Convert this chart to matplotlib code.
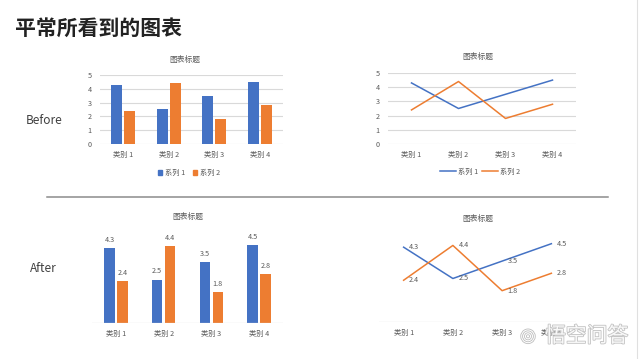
import numpy as np
import matplotlib
matplotlib.use("Agg")
import matplotlib.pyplot as plt
import matplotlib.patheffects as pe
from matplotlib.lines import Line2D
from matplotlib.patches import Patch

plt.rcParams['font.family'] = ['Noto Sans CJK SC', 'DejaVu Sans']

categories = ['类别 1', '类别 2', '类别 3', '类别 4']
series1 = [4.3, 2.5, 3.5, 4.5]
series2 = [2.4, 4.4, 1.8, 2.8]
series_names = ['系列 1', '系列 2']
yticks = [0, 1, 2, 3, 4, 5]

BLUE = '#4472C4'
ORANGE = '#ED7D31'
GRID = '#D9D9D9'
TXT = '#595959'
SMALL = 5.2

W, H = 640, 359
fig = plt.figure(figsize=(W / 100, H / 100), dpi=100)


def rect(x0, x1, ybot, ytop):
    # pixel box -> figure fraction
    return [x0 / W, 1 - ybot / H, (x1 - x0) / W, (ybot - ytop) / H]


def fx(x):
    return x / W


def fy(y):
    return 1 - y / H


def style_axes(ax, grid=True):
    for s in ax.spines.values():
        s.set_visible(False)
    ax.set_xlim(-0.5, len(categories) - 0.5)
    ax.set_ylim(0, 5)
    ax.set_xticks(np.arange(len(categories)))
    ax.set_xticklabels(categories)
    ax.tick_params(axis='x', length=0, pad=5, labelsize=SMALL, colors=TXT)
    if grid:
        ax.set_yticks(yticks)
        ax.tick_params(axis='y', length=0, pad=6, labelsize=SMALL, colors=TXT)
        ax.grid(axis='y', color=GRID, linewidth=0.8)
        ax.set_axisbelow(True)
    else:
        ax.set_yticks([])
        ax.axhline(0, color=GRID, linewidth=0.9)


x = np.arange(len(categories))

# page title
fig.text(fx(15), fy(28), '平常所看到的图表', fontsize=15, fontweight='bold',
         color='#222222', va='center', ha='left')
fig.text(fx(26), fy(121), 'Before', fontsize=8.5, color='#404040', va='center')
fig.text(fx(30), fy(269), 'After', fontsize=8.5, color='#404040', va='center')

# separator and slide edge
fig.add_artist(Line2D([fx(47), fx(608)], [fy(197), fy(197)], color='#8C8C8C', linewidth=1.1))
fig.add_artist(Line2D([fx(637), fx(637)], [0, 1], color='#E0E0E0', linewidth=0.8))

# --- before: bar chart
ax1 = fig.add_axes(rect(100, 283, 144, 75))
style_axes(ax1)
bw, off = 0.24, 0.14
ax1.bar(x - off, series1, bw, color=BLUE)
ax1.bar(x + off, series2, bw, color=ORANGE)
fig.text(fx(185), fy(60), '图表标题', fontsize=5.6, color=TXT, ha='center', va='center')
ax1.legend([Patch(color=BLUE), Patch(color=ORANGE)], series_names, loc='center',
           bbox_to_anchor=(fx(189), fy(173)), bbox_transform=fig.transFigure,
           ncol=2, frameon=False, fontsize=SMALL, handlelength=0.6, handleheight=0.6,
           handletextpad=0.4, columnspacing=1.0, labelcolor=TXT)

# --- before: line chart
ax2 = fig.add_axes(rect(388, 576, 144, 73))
style_axes(ax2)
ax2.plot(x, series1, color=BLUE, linewidth=1.1)
ax2.plot(x, series2, color=ORANGE, linewidth=1.1)
fig.text(fx(478), fy(57), '图表标题', fontsize=5.6, color=TXT, ha='center', va='center')
ax2.legend([Line2D([], [], color=BLUE, lw=1.1), Line2D([], [], color=ORANGE, lw=1.1)],
           series_names, loc='center', bbox_to_anchor=(fx(480), fy(172)),
           bbox_transform=fig.transFigure, ncol=2, frameon=False, fontsize=SMALL,
           handlelength=2.2, handletextpad=0.2, columnspacing=0.6, labelcolor=TXT)

# --- after: bar chart
ax3 = fig.add_axes(rect(92, 283, 323, 236))
style_axes(ax3, grid=False)
bw, off = 0.22, 0.135
b1 = ax3.bar(x - off, series1, bw, color=BLUE)
b2 = ax3.bar(x + off, series2, bw, color=ORANGE)
ax3.bar_label(b1, labels=[str(v) for v in series1], padding=3, fontsize=SMALL, color=TXT)
ax3.bar_label(b2, labels=[str(v) for v in series2], padding=3, fontsize=SMALL, color=TXT)
fig.text(fx(188), fy(217), '图表标题', fontsize=5.6, color=TXT, ha='center', va='center')

# --- after: line chart
ax4 = fig.add_axes(rect(379, 576, 322, 235))
style_axes(ax4, grid=False)
ax4.plot(x, series1, color=BLUE, linewidth=1.1)
ax4.plot(x, series2, color=ORANGE, linewidth=1.1)
for xi, v in zip(x, series1):
    ax4.annotate(str(v), (xi, v), xytext=(4, 0), textcoords='offset points',
                 fontsize=SMALL, color=TXT, ha='left', va='center')
for xi, v in zip(x, series2):
    ax4.annotate(str(v), (xi, v), xytext=(4, 0), textcoords='offset points',
                 fontsize=SMALL, color=TXT, ha='left', va='center')
fig.text(fx(478), fy(219), '图表标题', fontsize=5.6, color=TXT, ha='center', va='center')

# watermark (sits over the last category label, as in the source image)
fig.text(fx(545), fy(336), '悟空问答', fontsize=15, color='white', ha='left', va='center',
         alpha=0.9, path_effects=[pe.withStroke(linewidth=1.2, foreground='#BDBDBD')])
fig.text(fx(528), fy(336), '◎', fontsize=13, color='white', ha='center', va='center',
         family=['DejaVu Sans'], path_effects=[pe.withStroke(linewidth=1.2, foreground='#BDBDBD')])

fig.savefig('out.png', dpi=100, facecolor='white')
